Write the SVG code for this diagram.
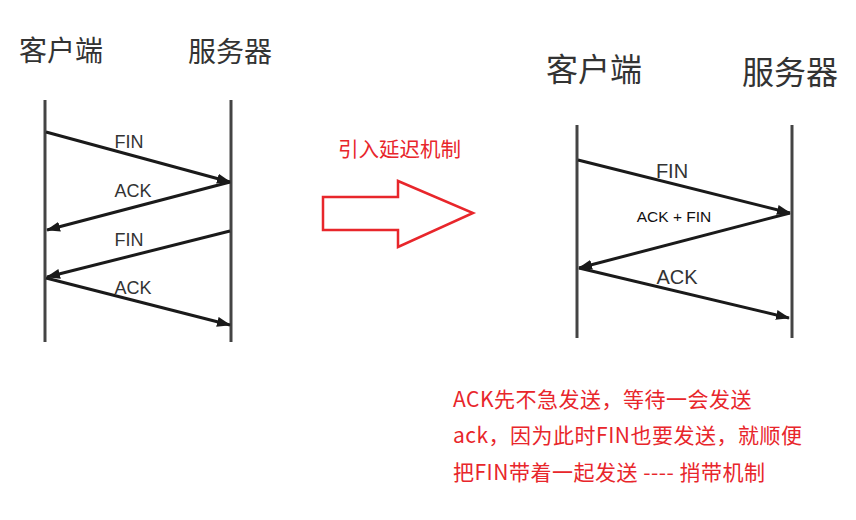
<svg xmlns="http://www.w3.org/2000/svg" width="856" height="520" viewBox="0 0 856 520">
<defs>
<style>
.life{stroke:#444;stroke-width:3;fill:none}
.msg{stroke:#1a1a1a;stroke-width:3;fill:none}
.cjk{font-family:"Noto Sans CJK SC","Noto Sans",sans-serif;fill:#333}
.lbl{font-family:"Liberation Sans","DejaVu Sans",sans-serif;fill:#333}
.red{font-family:"Noto Sans CJK SC","Noto Sans",sans-serif;fill:#e8262b}
.note{font-size:21px;letter-spacing:0.5px}
</style>
<marker id="ah" viewBox="0 0 14 10" refX="13" refY="5" markerWidth="14" markerHeight="10" markerUnits="userSpaceOnUse" orient="auto">
<path d="M0,0 L14,5 L0,10 Z" fill="#1a1a1a"/>
</marker>
</defs>
<rect width="856" height="520" fill="#fff"/>

<g id="left-client">
<text class="cjk" x="19" y="61" font-size="28">客户端</text>
<line class="life" x1="45" y1="100" x2="45" y2="342"/>
</g>
<g id="left-server">
<text class="cjk" x="188" y="62" font-size="28">服务器</text>
<line class="life" x1="231" y1="100" x2="231" y2="342"/>
</g>

<g id="right-client">
<text class="cjk" x="546" y="81" font-size="32">客户端</text>
<line class="life" x1="577" y1="125" x2="577" y2="338" stroke-width="4"/>
</g>
<g id="right-server">
<text class="cjk" x="742" y="84" font-size="32">服务器</text>
<line class="life" x1="792" y1="125" x2="792" y2="338" stroke-width="4"/>
</g>

<g id="transition">
<text class="red" x="338" y="157" font-size="20.5">引入延迟机制</text>
<path d="M323,197 L398,197 L398,181 L473,213 L398,247 L398,230 L323,230 Z" fill="none" stroke="#e8262b" stroke-width="2.5"/>
</g>

<g id="note">
<text class="red note" x="453" y="407">ACK先不急发送，等待一会发送</text>
<text class="red note" x="453" y="443">ack，因为此时FIN也要发送，就顺便</text>
<text class="red note" x="453" y="480">把FIN带着一起发送 ---- 捎带机制</text>
</g>

<g id="connectors">
<line class="msg" x1="46" y1="132" x2="230" y2="182" marker-end="url(#ah)"/>
<line class="msg" x1="230" y1="182" x2="47" y2="230" marker-end="url(#ah)"/>
<line class="msg" x1="230" y1="231" x2="47" y2="277" marker-end="url(#ah)"/>
<line class="msg" x1="46" y1="278" x2="230" y2="325" marker-end="url(#ah)"/>
<text class="lbl" x="129" y="148" font-size="18" text-anchor="middle">FIN</text>
<text class="lbl" x="133" y="197" font-size="18" text-anchor="middle">ACK</text>
<text class="lbl" x="129" y="246" font-size="18" text-anchor="middle">FIN</text>
<text class="lbl" x="133" y="294" font-size="18" text-anchor="middle">ACK</text>

<line class="msg" x1="578" y1="160" x2="790" y2="213" marker-end="url(#ah)"/>
<line class="msg" x1="790" y1="213" x2="579" y2="268" marker-end="url(#ah)"/>
<line class="msg" x1="579" y1="268" x2="789" y2="318" marker-end="url(#ah)"/>
<text class="lbl" x="672" y="178" font-size="20" text-anchor="middle">FIN</text>
<text class="lbl" x="674" y="222" font-size="15.5" text-anchor="middle" style="fill:#111">ACK + FIN</text>
<text class="lbl" x="677" y="284" font-size="20" text-anchor="middle">ACK</text>
</g>
</svg>
